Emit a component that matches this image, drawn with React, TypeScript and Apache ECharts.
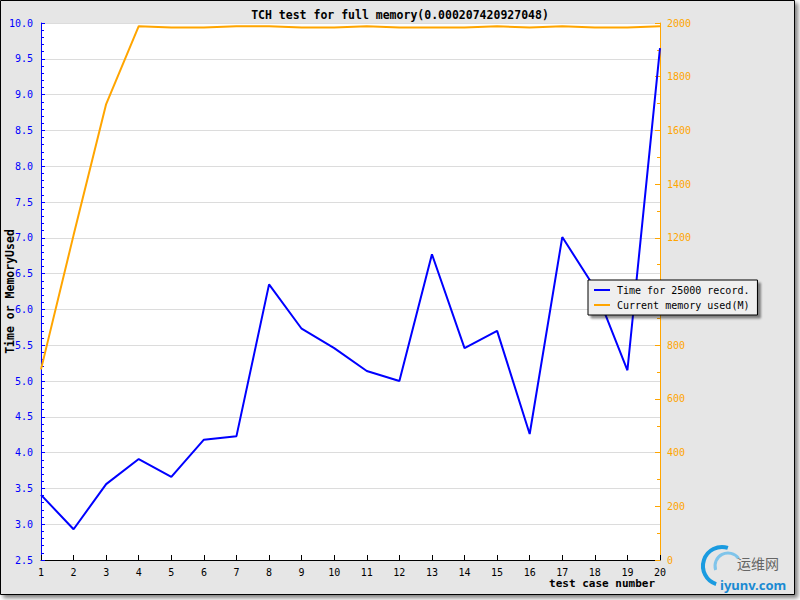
import React, { useEffect, useRef } from "react";
import * as echarts from "echarts";

const testCases = ["1","2","3","4","5","6","7","8","9","10","11","12","13","14","15","16","17","18","19","20"];
const timeValues = [3.41, 2.93, 3.56, 3.91, 3.66, 4.18, 4.23, 6.35, 5.73, 5.46, 5.14, 5.0, 6.77, 5.46, 5.7, 4.26, 7.01, 6.3, 5.15, 9.65];
const memoryValues = [710, 1210, 1698, 1988, 1983, 1983, 1988, 1988, 1983, 1983, 1988, 1983, 1983, 1983, 1988, 1983, 1988, 1983, 1983, 1988];

const seriesNames = ["Time for 25000 record.", "Current memory used(M)"];
const titleText = "TCH test for full memory(0.000207420927048)";
const yName = "Time or MemoryUsed";
const xName = "test case number";

const MONO = "DejaVu Sans Mono";
const BLUE = "#0000ff";
const ORANGE = "#ffa500";

export default function App() {
  const ref = useRef<HTMLDivElement>(null);
  useEffect(() => {
    if (!ref.current) return;
    const chart = echarts.init(ref.current, undefined, { renderer: "svg" });
    chart.setOption({
      animation: false,
      backgroundColor: "#ffffff",
      textStyle: { fontFamily: MONO },
      title: {
        text: titleText,
        left: "center",
        top: 4,
        textStyle: { fontFamily: MONO, fontSize: 11.5, fontWeight: "bold", color: "#000" },
      },
      graphic: [
        {
          type: "rect",
          z: -100,
          shape: { x: 0.5, y: 0.5, width: 794, height: 594 },
          style: {
            fill: "#e6e6e6",
            stroke: "#000",
            lineWidth: 1,
            shadowBlur: 4,
            shadowOffsetX: 3,
            shadowOffsetY: 3,
            shadowColor: "rgba(0,0,0,0.5)",
          },
        },
        {
          type: "text",
          right: 145,
          top: 578,
          style: { text: xName, font: `bold 11px "${MONO}"`, fill: "#000" },
        },
        {
          type: "arc",
          shape: { cx: 722, cy: 566, r: 19, startAngle: Math.PI * 0.6, endAngle: Math.PI * 1.6 },
          style: { stroke: "#1a9be0", lineWidth: 4, fill: "none" },
          z: 1,
        },
        {
          type: "arc",
          shape: { cx: 728, cy: 566, r: 13, startAngle: Math.PI * 0.9, endAngle: Math.PI * 1.8 },
          style: { stroke: "#7fc4ea", lineWidth: 3, fill: "none" },
          z: 1,
        },
        {
          type: "text",
          left: 737,
          top: 556,
          style: { text: "运维网", font: '14px "Noto Sans CJK SC"', fill: "#666" },
          z: 1,
        },
        {
          type: "text",
          left: 720,
          top: 578,
          style: { text: "iyunv.com", font: 'bold 13px "Noto Sans"', fill: "#1a8ad2" },
          z: 1,
        },
      ],
      legend: {
        orient: "vertical",
        left: 588,
        top: 280,
        padding: [5, 8, 5, 6],
        itemGap: 5,
        itemWidth: 16,
        itemHeight: 2,
        icon: "rect",
        backgroundColor: "#efefef",
        borderColor: "#000",
        borderWidth: 1,
        shadowBlur: 2,
        shadowColor: "rgba(0,0,0,0.45)",
        shadowOffsetX: 3,
        shadowOffsetY: 3,
        textStyle: { fontFamily: MONO, fontSize: 10, color: "#000", padding: [0, 0, 0, 2] },
        data: seriesNames,
      },
      grid: {
        left: 41,
        right: 140,
        top: 23,
        bottom: 40,
        show: true,
        backgroundColor: "#ffffff",
        borderWidth: 0,
        containLabel: false,
        outerBoundsMode: "none",
      },
      xAxis: {
        type: "category",
        data: testCases,
        boundaryGap: false,
        axisLine: { lineStyle: { color: "#000", width: 1 } },
        axisTick: { inside: true, length: 5, lineStyle: { color: "#000" } },
        axisLabel: { color: "#000", fontFamily: MONO, fontSize: 10, margin: 7 },
        splitLine: { show: false },
      },
      yAxis: [
        {
          type: "value",
          min: 2.5,
          max: 10,
          interval: 0.5,
          name: yName,
          nameLocation: "middle",
          nameGap: 25,
          nameMoveOverlap: false,
          nameTextStyle: { fontFamily: MONO, fontSize: 11.5, fontWeight: "bold", color: "#000" },
          axisLine: { show: true, lineStyle: { color: BLUE, width: 1 } },
          axisTick: { show: true, inside: true, length: 4, lineStyle: { color: BLUE } },
          minorTick: { show: true, splitNumber: 5, length: 3, lineStyle: { color: BLUE } },
          axisLabel: {
            color: BLUE,
            fontFamily: MONO,
            fontSize: 10,
            margin: 8,
            formatter: (v: number) => v.toFixed(1),
          },
          splitLine: { show: true, lineStyle: { color: "#dcdcdc", width: 1 } },
        },
        {
          type: "value",
          min: 0,
          max: 2000,
          interval: 200,
          position: "right",
          axisLine: { show: true, lineStyle: { color: ORANGE, width: 1 } },
          axisTick: { show: true, inside: true, length: 5, lineStyle: { color: ORANGE } },
          minorTick: { show: true, splitNumber: 2, length: 3, lineStyle: { color: ORANGE } },
          axisLabel: {
            color: ORANGE,
            fontFamily: MONO,
            fontSize: 10,
            margin: 7,
            formatter: (v: number) => String(v),
          },
          splitLine: { show: false },
        },
      ],
      series: [
        {
          name: seriesNames[0],
          type: "line",
          yAxisIndex: 0,
          data: timeValues,
          symbol: "none",
          color: BLUE,
          lineStyle: { color: BLUE, width: 2 },
          z: 3,
        },
        {
          name: seriesNames[1],
          type: "line",
          yAxisIndex: 1,
          data: memoryValues,
          symbol: "none",
          color: ORANGE,
          lineStyle: { color: ORANGE, width: 2 },
          z: 2,
        },
      ],
    });
    return () => chart.dispose();
  }, []);
  return (
    <div
      ref={ref}
      style={{ position: "fixed", left: 0, top: 0, width: 800, height: 600 }}
    />
  );
}
